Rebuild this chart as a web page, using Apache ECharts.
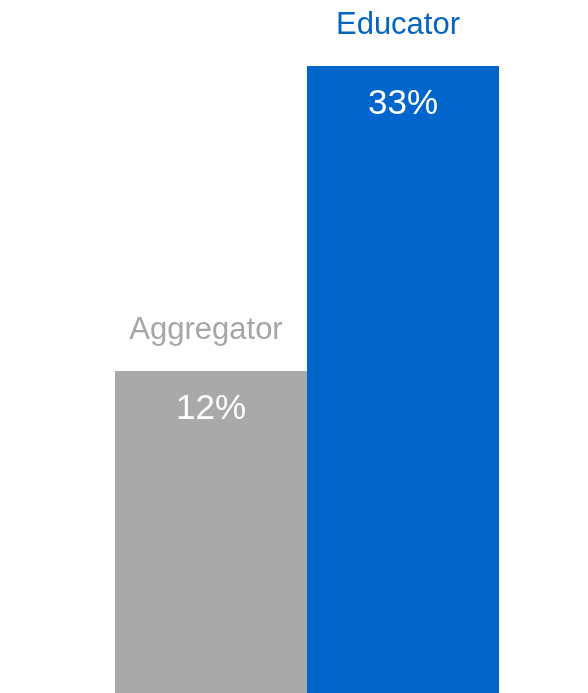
<!DOCTYPE html>
<html>
<head>
<meta charset="utf-8">
<script src="https://cdn.jsdelivr.net/npm/echarts@6/dist/echarts.min.js"></script>
<style>
html,body{margin:0;padding:0;background:#fff;}
#chart{width:588px;height:693px;}
</style>
</head>
<body>
<div id="chart"></div>
<script>
var categories = ['Aggregator', 'Educator'];
var values = [12, 33];
var valueLabels = ['12%', '33%'];
var barColors = ['#A9A9A9', '#0066CC'];
var nameColors = ['#A6A6A6', '#0563C1'];

var axisMin = -10.17;
var axisMax = 33;

var chart = echarts.init(document.getElementById('chart'));
chart.setOption({
  animation: false,
  grid: { left: 115, right: 89, top: 66, bottom: 0 },
  xAxis: {
    type: 'category',
    data: categories,
    show: false
  },
  yAxis: {
    type: 'value',
    min: axisMin,
    max: axisMax,
    startValue: axisMin,
    show: false,
    splitLine: { show: false }
  },
  series: [
    {
      type: 'bar',
      barCategoryGap: '0%',
      barGap: '-100%',
      data: values.map(function (v, i) {
        return { value: v, itemStyle: { color: barColors[i] } };
      }),
      label: {
        show: true,
        position: 'insideTop',
        distance: 21,
        color: '#ffffff',
        fontFamily: 'Liberation Sans, Arial, sans-serif',
        fontSize: 35,
        formatter: function (p) { return valueLabels[p.dataIndex]; }
      }
    },
    {
      type: 'bar',
      barCategoryGap: '0%',
      barGap: '-100%',
      silent: true,
      data: values.map(function (v, i) {
        return {
          value: v,
          itemStyle: { color: 'rgba(0,0,0,0)' },
          label: { color: nameColors[i] }
        };
      }),
      label: {
        show: true,
        position: 'top',
        distance: 25,
        offset: [-5, 0],
        fontFamily: 'Liberation Sans, Arial, sans-serif',
        fontSize: 31,
        formatter: function (p) { return categories[p.dataIndex]; }
      }
    }
  ]
});
</script>
</body>
</html>
